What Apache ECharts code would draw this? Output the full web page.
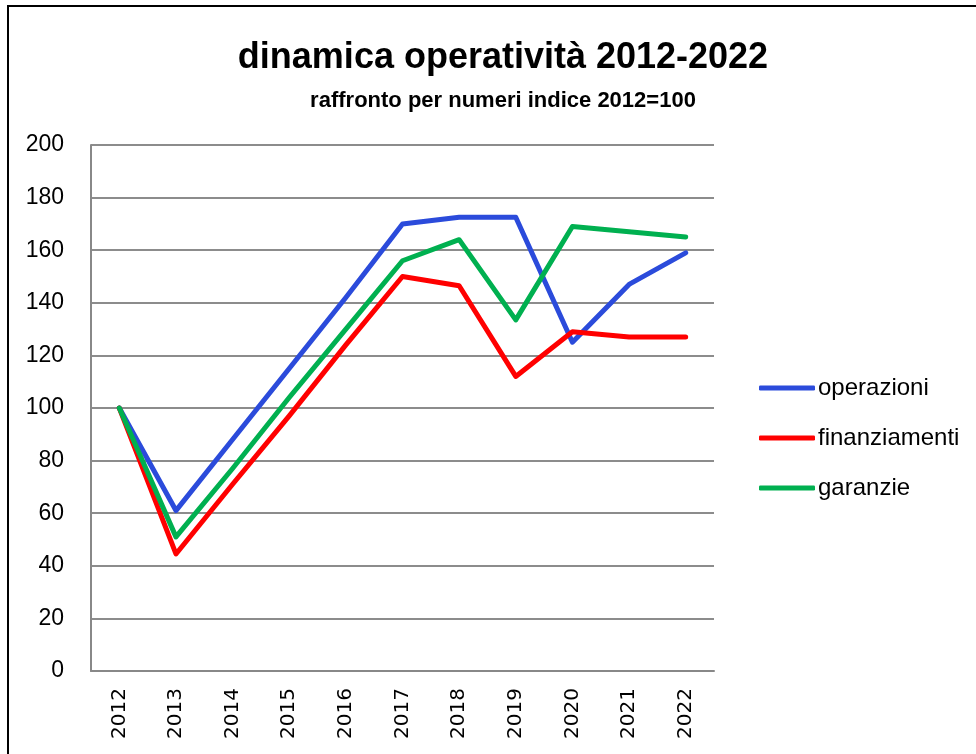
<!DOCTYPE html>
<html>
<head>
<meta charset="utf-8">
<style>
  html, body { margin: 0; padding: 0; background: #fff; overflow: hidden; }
  #chart { width: 976px; height: 754px; }
</style>
<script src="https://cdn.jsdelivr.net/npm/echarts@6/dist/echarts.min.js"></script>
</head>
<body>
<div id="chart"></div>
<script>
// dati (numeri indice, 2012 = 100)
var anni = ['2012', '2013', '2014', '2015', '2016', '2017', '2018', '2019', '2020', '2021', '2022'];
var operazioni = [100, 61, 88, 115, 142, 170, 172.5, 172.5, 125, 147, 159];
var finanziamenti = [100, 44.5, 71, 97, 124, 150, 146.5, 112, 129, 127, 127];
var garanzie = [100, 51, 77, 104, 130, 156, 164, 133.5, 169, 167, 165];

var myColor = ['#2B4BDB', '#FF0000', '#00B050'];

var chart = echarts.init(document.getElementById('chart'));

function serie(nome, dati, colore) {
  return {
    name: nome,
    type: 'line',
    data: dati,
    symbol: 'none',
    color: colore,
    lineStyle: { width: 5, color: colore, cap: 'round', join: 'round' },
    animation: false
  };
}

var option = {
  backgroundColor: '#fff',
  animation: false,
  graphic: [{
    type: 'rect',
    shape: { x: 8, y: 6, width: 1000, height: 800 },
    style: { fill: 'none', stroke: '#000', lineWidth: 2 },
    silent: true
  }],
  title: [{
    text: 'dinamica operatività 2012-2022',
    left: 498,
    top: 35,
    textAlign: 'center',
    textStyle: { fontFamily: 'Liberation Sans', fontWeight: 'bold', fontSize: 36, color: '#000' }
  }, {
    text: 'raffronto per numeri indice 2012=100',
    left: 498,
    top: 85,
    textAlign: 'center',
    textStyle: { fontFamily: 'Liberation Sans', fontWeight: 'bold', fontSize: 22, color: '#000' }
  }],
  legend: {
    orient: 'vertical',
    left: 754,
    top: 371,
    icon: 'roundRect',
    itemWidth: 56,
    itemHeight: 5,
    itemGap: 26,
    textStyle: { fontFamily: 'Liberation Sans', fontSize: 24, color: '#000', padding: [0, 0, 0, -2] },
    data: ['operazioni', 'finanziamenti', 'garanzie']
  },
  grid: {
    left: 91,
    right: 262,
    top: 145,
    bottom: 83,
    containLabel: false
  },
  xAxis: {
    type: 'category',
    data: anni,
    boundaryGap: true,
    axisLine: { show: true, lineStyle: { color: '#888', width: 2 } },
    axisTick: { show: false },
    axisLabel: {
      rotate: 90,
      margin: 17,
      fontFamily: 'DejaVu Sans',
      fontSize: 20,
      color: '#000'
    }
  },
  yAxis: {
    type: 'value',
    min: 0,
    max: 200,
    interval: 20,
    axisLine: { show: true, lineStyle: { color: '#888', width: 2 } },
    axisTick: { show: false },
    splitLine: { show: true, lineStyle: { color: '#8c8c8c', width: 2 } },
    axisLabel: {
      margin: 27,
      fontFamily: 'Liberation Sans',
      fontSize: 23,
      color: '#000'
    }
  },
  series: [
    serie('operazioni', operazioni, myColor[0]),
    serie('finanziamenti', finanziamenti, myColor[1]),
    serie('garanzie', garanzie, myColor[2])
  ]
};

chart.setOption(option);
</script>
</body>
</html>
